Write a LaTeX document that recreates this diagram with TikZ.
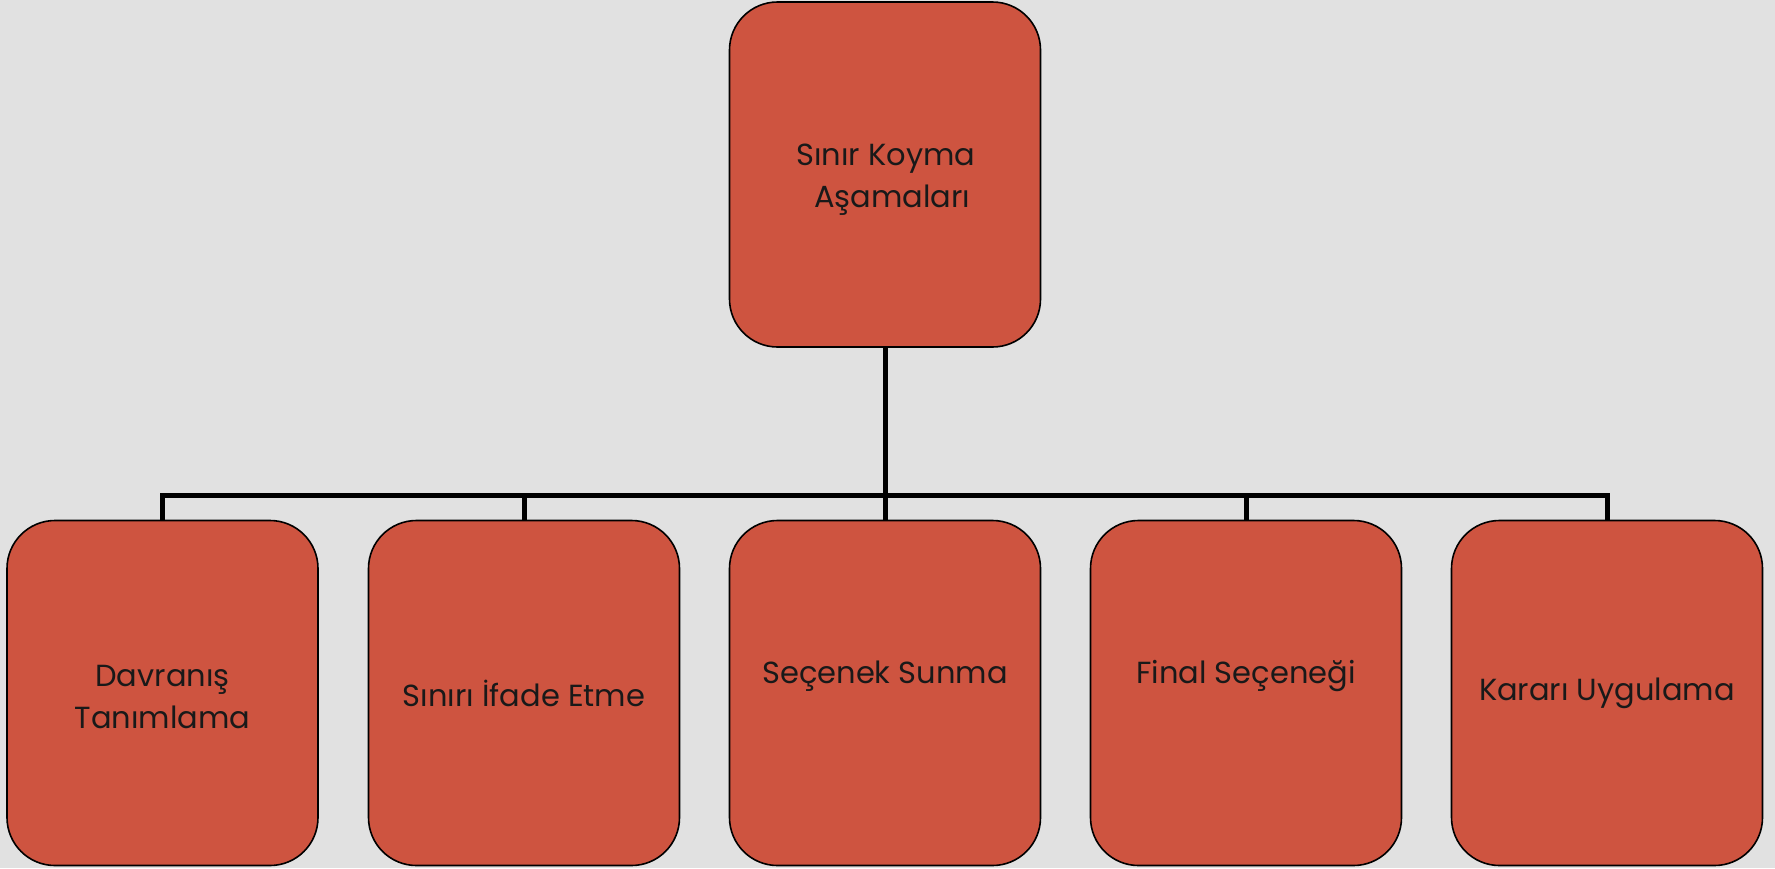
\documentclass[tikz,border=0pt]{standalone}
\usepackage{fontspec}
\setmainfont{Poppins}
\definecolor{bg}{HTML}{E1E1E1}
\definecolor{boxfill}{HTML}{CE5440}
\tikzset{
  stage/.style={draw=black, line width=1.6pt, fill=boxfill, rounded corners=48pt,
    minimum width=311pt, minimum height=345pt, inner sep=0pt, align=center,
    font=\fontsize{30.5}{42}\selectfont, text=black!90},
  label/.style={font=\fontsize{30.5}{42}\selectfont, align=center, text=black!90},
  conn/.style={draw=black, line width=5pt},
}
\begin{document}
\begin{tikzpicture}[x=1pt,y=1pt]
\fill[bg] (0,0) rectangle (1775,-868);
\useasboundingbox (0,0) rectangle (1775,-868);
\node[stage] (top) at (885,-174.5) {};
\node[label] (toptext) at (886,-180) {Sınır Koyma\\\hspace*{0.4em}Aşamaları};
\node[stage] (b1) at (162.5,-693) {};
\node[label] (t1) at (162.5,-697) {Davranış\\Tanımlama};
\node[stage] (b2) at (524,-693) {Sınırı İfade Etme};
\node[stage] (b3) at (885,-693) {};
\node[stage] (b4) at (1246,-693) {};
\node[stage] (b5) at (1607,-693) {Kararı Uygulama};
\node[label] (t3) at (885,-676) {Seçenek Sunma};
\node[label] (t4) at (1246,-676) {Final Seçeneği};
\coordinate (bar) at (885,-495);
\draw[conn] (top.south) -- (b3.north);
\draw[conn] (b1.north) -- (b1.north |- bar) -- (b5.north |- bar) -- (b5.north);
\draw[conn] (b2.north) -- (b2.north |- bar);
\draw[conn] (b4.north) -- (b4.north |- bar);
\end{tikzpicture}
\end{document}
